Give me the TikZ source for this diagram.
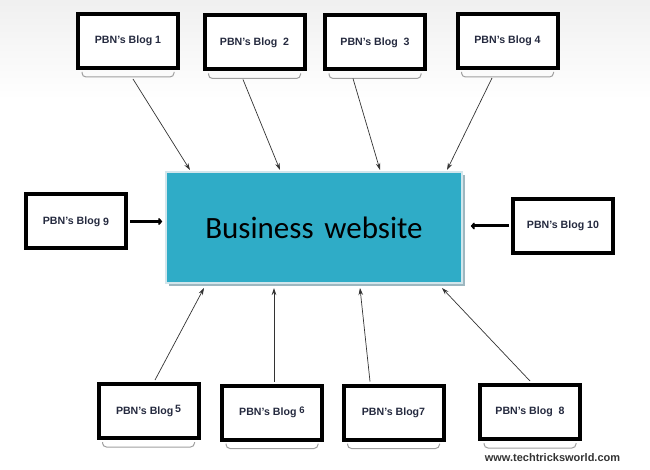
\documentclass[tikz,border=0pt]{standalone}
\usepackage{fontspec}
\setmainfont{Liberation Sans}
\newfontfamily\calib{Carlito}
\usetikzlibrary{arrows.meta,calc}
\definecolor{mainblue}{HTML}{2FACC7}
\definecolor{mainedge}{HTML}{D2E6EC}
\definecolor{mainshadow}{HTML}{9DB7C0}
\definecolor{labelcol}{HTML}{252A3F}
\begin{document}
\begin{tikzpicture}[x=1pt,y=-1pt,
  blog/.style={draw=black,line width=4pt,fill=white,inner sep=0pt,
    minimum width=100pt,minimum height=54pt,
    font=\bfseries\fontsize{10.6}{12}\selectfont,text=labelcol},
  shadowline/.style={draw=gray!75,line width=1pt,rounded corners=4pt},
  link/.style={draw=black!80,line width=0.7pt,-{Stealth[length=7pt,width=4.5pt]}},
  fat/.style={draw=black,line width=3pt,-{Triangle[round,length=4pt,width=8pt]}},
]
\useasboundingbox (0,0) rectangle (650,470);
\fill[top color=gray!12,bottom color=white] (0,0) rectangle (650,100);

% main box
\fill[mainshadow] (169,175) rectangle (465,286);
\node[draw=mainedge,line width=1.5pt,fill=mainblue,minimum width=296pt,minimum height=111pt,
  inner sep=0pt,font=\calib\fontsize{31}{36}\selectfont,text=black] (main) at (314,227.5) {Business\hspace{0.35em}website};

% blog boxes
\node[blog] (b1) at (128,41) {PBN's Blog 1};
\node[blog] (b2) at (254.5,42.5) {PBN's Blog\ \ 2};
\node[blog] (b3) at (375,42.5) {PBN's Blog\ \ 3};
\node[blog] (b4) at (507.5,41) {PBN's Blog 4};
\node[blog] (b9) at (76,221.5) {PBN's Blog \raisebox{-1.5pt}{9}};
\node[blog] (b10) at (563,226) {PBN's Blog 10};
\node[blog] (b5) at (148.5,411) {PBN's Blog\,\raisebox{1.5pt}{5}};
\node[blog] (b6) at (272,412.5) {PBN's Blog \raisebox{2.5pt}{\fontsize{9.5}{10}\selectfont 6}};
\node[blog] (b7) at (393.5,412.5) {PBN's Blog7};
\node[blog] (b8) at (530,412) {PBN's Blog\ \ 8};

% shadows under boxes
\foreach \n in {b1,b2,b3,b4,b5,b6,b7,b8}{
  \draw[shadowline] ($(\n.south west)+(6,2)$) |- ($(\n.south east)+(-6,7)$) -- ($(\n.south east)+(-6,2)$);
}

% arrow end points on the main box
\coordinate (t1) at (190,170);
\coordinate (t2) at (280,170);
\coordinate (t3) at (380,170);
\coordinate (t4) at (447,170);
\coordinate (u5) at (204,288);
\coordinate (u6) at (274,288);
\coordinate (u7) at (360,288);
\coordinate (u8) at (442,288);

\draw[link] ($(b1.south)+(5,9)$) -- (t1);
\draw[link] ($(b2.south)+(-11.5,8)$) -- (t2);
\draw[link] ($(b3.south)+(-22,7)$) -- (t3);
\draw[link] ($(b4.south)+(-15.5,8)$) -- (t4);
\draw[link] ($(b5.north)+(6.5,-2)$) -- (u5);
\draw[link] ($(b6.north)+(2,-2)$) -- (u6);
\draw[link] ($(b7.north)+(-23.5,-2)$) -- (u7);
\draw[link] ($(b8.north)+(0,-2)$) -- (u8);

\draw[fat,shorten <=2pt,shorten >=3pt] (b9.east) -- (b9.east -| main.west);
\draw[fat,shorten <=2pt,shorten >=8pt] (b10.west) -- (b10.west -| main.east);

\node[font=\bfseries\fontsize{11}{13}\selectfont,text=black!80,inner sep=0pt] (wm) at (552.5,458) {www.techtricksworld.com};
\end{tikzpicture}
\end{document}
